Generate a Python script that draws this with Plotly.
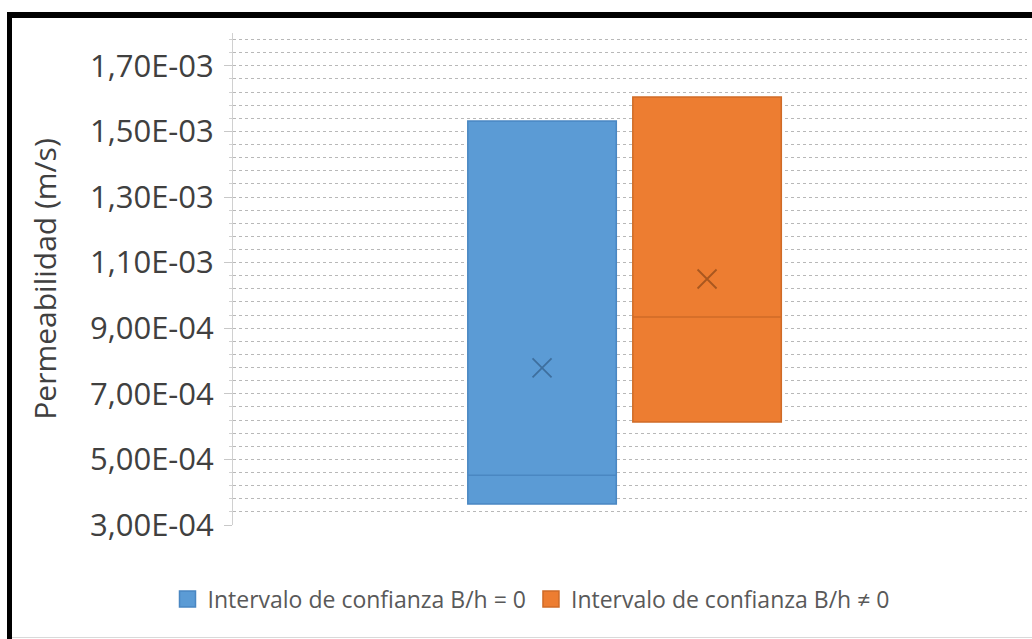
import plotly.graph_objects as go

# Confidence intervals of permeability (m/s)
series = ["Intervalo de confianza B/h = 0", "Intervalo de confianza B/h \u2260 0"]
q1 = [3.64e-4, 6.14e-4]
median = [4.52e-4, 9.34e-4]
q3 = [1.532e-3, 1.605e-3]
mean = [7.79e-4, 1.05e-3]

tick_vals = [3e-4, 5e-4, 7e-4, 9e-4, 1.1e-3, 1.3e-3, 1.5e-3, 1.7e-3]
tick_text = ["3,00E-04", "5,00E-04", "7,00E-04", "9,00E-04",
             "1,10E-03", "1,30E-03", "1,50E-03", "1,70E-03"]

fills = ["#5B9BD5", "#ED7D31"]
edges = ["#4A87C2", "#CF6B27"]
marks = ["#3E6F9E", "#A9571F"]

FONT = "Open Sans"

fig = go.Figure()
for i, name in enumerate(series):
    fig.add_trace(go.Box(
        x=[i], q1=[q1[i]], median=[median[i]], q3=[q3[i]],
        lowerfence=[q1[i]], upperfence=[q3[i]],
        name=name, width=0.9, whiskerwidth=0, showlegend=False,
        fillcolor=fills[i], line=dict(color=edges[i], width=1.5),
        boxpoints=False, hoverinfo="skip",
    ))
for i, name in enumerate(series):
    fig.add_trace(go.Scatter(
        x=[i], y=[mean[i]], mode="markers", showlegend=False,
        marker=dict(symbol="x-thin-open", size=19, color=marks[i],
                    line=dict(color=marks[i], width=1.8)),
        hoverinfo="skip",
    ))
# legend entries (filled squares)
for i, name in enumerate(series):
    fig.add_trace(go.Scatter(
        x=[None], y=[None], mode="markers", name=name,
        marker=dict(symbol="square", size=16, color=fills[i],
                    line=dict(color=edges[i], width=1.5)),
    ))

# plot area geometry in pixels (for the frame drawn around the chart)
W, H = 1032, 639
L, R, T, B = 233, 5, 33, 114
pw, ph = W - L - R, H - T - B


def px(x):
    return (x - L) / pw


def py(y):
    return (H - B - y) / ph


fig.update_layout(
    width=W, height=H,
    margin=dict(l=L, r=R, t=T, b=B),
    paper_bgcolor="white", plot_bgcolor="white",
    font=dict(family=FONT, color="#404040"),
    showlegend=True,
    legend=dict(orientation="h", x=px(531), xanchor="center",
                y=py(599), yanchor="middle",
                font=dict(size=23, color="#595959", family=FONT),
                itemwidth=30, tracegroupgap=0),
    xaxis=dict(range=[-1.873, 2.939], visible=False),
    yaxis=dict(
        range=[3e-4, 1.8e-3],
        tickvals=tick_vals, ticktext=tick_text,
        tickfont=dict(size=31, color="#404040", family=FONT),
        ticks="outside", ticklen=8, tickcolor="#c8c8c8",
        ticklabelstandoff=4,
        showline=True, linecolor="#d0d0d0", linewidth=1,
        showgrid=True, gridcolor="#b8b8b8", griddash="dot", gridwidth=1,
        zeroline=False,
        minor=dict(dtick=4e-5, tick0=3e-4, showgrid=True,
                   gridcolor="#b8b8b8", griddash="dot", gridwidth=1,
                   ticks="outside", ticklen=3, tickcolor="#d0d0d0"),
        title=dict(text="Permeabilidad (m/s)", standoff=24,
                   font=dict(size=30, color="#404040", family=FONT)),
    ),
    shapes=[
        dict(type="line", xref="paper", yref="paper",
             x0=px(9.5), x1=px(9.5), y0=py(12), y1=py(645),
             line=dict(color="black", width=5)),
        dict(type="line", xref="paper", yref="paper",
             x0=px(7), x1=px(1040), y0=py(15), y1=py(15),
             line=dict(color="black", width=6)),
        dict(type="line", xref="paper", yref="paper",
             x0=px(12), x1=px(1040), y0=py(637.5), y1=py(637.5),
             line=dict(color="#d9d9d9", width=1)),
    ],
)

fig.write_html("out.html")
